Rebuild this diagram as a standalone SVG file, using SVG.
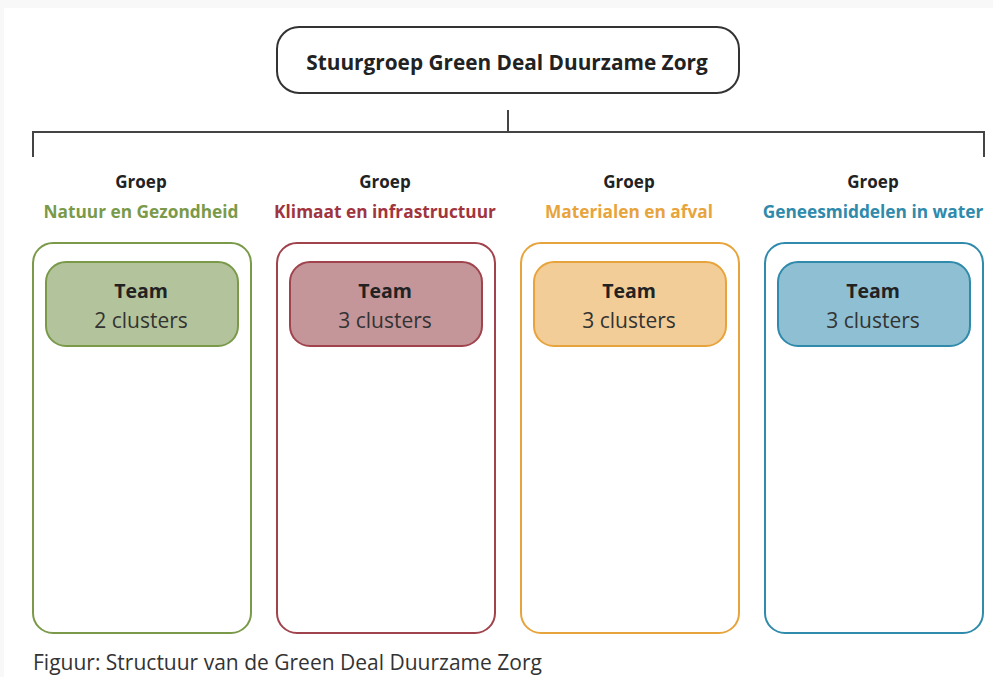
<svg xmlns="http://www.w3.org/2000/svg" width="993" height="677" viewBox="0 0 993 677">
<style>
text{font-family:"Open Sans","Noto Sans","Liberation Sans",sans-serif;text-anchor:middle;}
.b{font-weight:bold;}
.hdr{font-size:17px;fill:#222;font-weight:bold;}
.sub{font-size:17.3px;font-weight:bold;}
.outer{fill:#fff;stroke-width:2;}
.inner{stroke-width:2;}
.t1{font-size:19.5px;font-weight:bold;fill:#222;}
.t2{font-size:21px;fill:#333;}
.con{fill:none;stroke:#444;stroke-width:2;}
</style>
<rect x="0" y="0" width="993" height="677" fill="#f8f8f8"/>
<rect x="4" y="8" width="989" height="669" fill="#fff"/>
<g id="connectors">
<path class="con" d="M508 110V132M33 157V132H984V157"/>
</g>
<g id="stuurgroep">
<rect x="277" y="27" width="462" height="66" rx="22" fill="#fff" stroke="#333" stroke-width="2"/>
<text x="507" y="70" class="b" style="font-size:20.8px;fill:#222">Stuurgroep Green Deal Duurzame Zorg</text>
</g>
<g id="groep1">
<text x="141" y="188" class="hdr">Groep</text>
<text x="141" y="218" class="sub" fill="#7a9a4a">Natuur en Gezondheid</text>
<rect class="outer" x="33" y="243" width="218" height="390" rx="20" stroke="#7a9a4a"/>
<rect class="inner" x="46" y="262" width="192" height="84" rx="20" fill="#b3c49c" stroke="#7a9a4a"/>
<text x="141" y="298" class="t1">Team</text>
<text x="141" y="328" class="t2">2 clusters</text>
</g>
<g id="groep2">
<text x="385" y="188" class="hdr">Groep</text>
<text x="385" y="218" class="sub" fill="#a0343f">Klimaat en infrastructuur</text>
<rect class="outer" x="277" y="243" width="218" height="390" rx="20" stroke="#a0434d"/>
<rect class="inner" x="290" y="262" width="192" height="84" rx="20" fill="#c4969a" stroke="#a0434d"/>
<text x="385" y="298" class="t1">Team</text>
<text x="385" y="328" class="t2">3 clusters</text>
</g>
<g id="groep3">
<text x="629" y="188" class="hdr">Groep</text>
<text x="629" y="218" class="sub" fill="#e8a43c">Materialen en afval</text>
<rect class="outer" x="521" y="243" width="218" height="390" rx="20" stroke="#e8a43c"/>
<rect class="inner" x="534" y="262" width="192" height="84" rx="20" fill="#f2cd98" stroke="#e8a43c"/>
<text x="629" y="298" class="t1">Team</text>
<text x="629" y="328" class="t2">3 clusters</text>
</g>
<g id="groep4">
<text x="873" y="188" class="hdr">Groep</text>
<text x="873" y="218" class="sub" fill="#2f8aab">Geneesmiddelen in water</text>
<rect class="outer" x="765" y="243" width="218" height="390" rx="20" stroke="#2f8aab"/>
<rect class="inner" x="778" y="262" width="192" height="84" rx="20" fill="#8fbfd2" stroke="#2f8aab"/>
<text x="873" y="298" class="t1">Team</text>
<text x="873" y="328" class="t2">3 clusters</text>
</g>
<text x="33" y="670" style="text-anchor:start;font-size:21px;fill:#333">Figuur: Structuur van de Green Deal Duurzame Zorg</text>
</svg>
